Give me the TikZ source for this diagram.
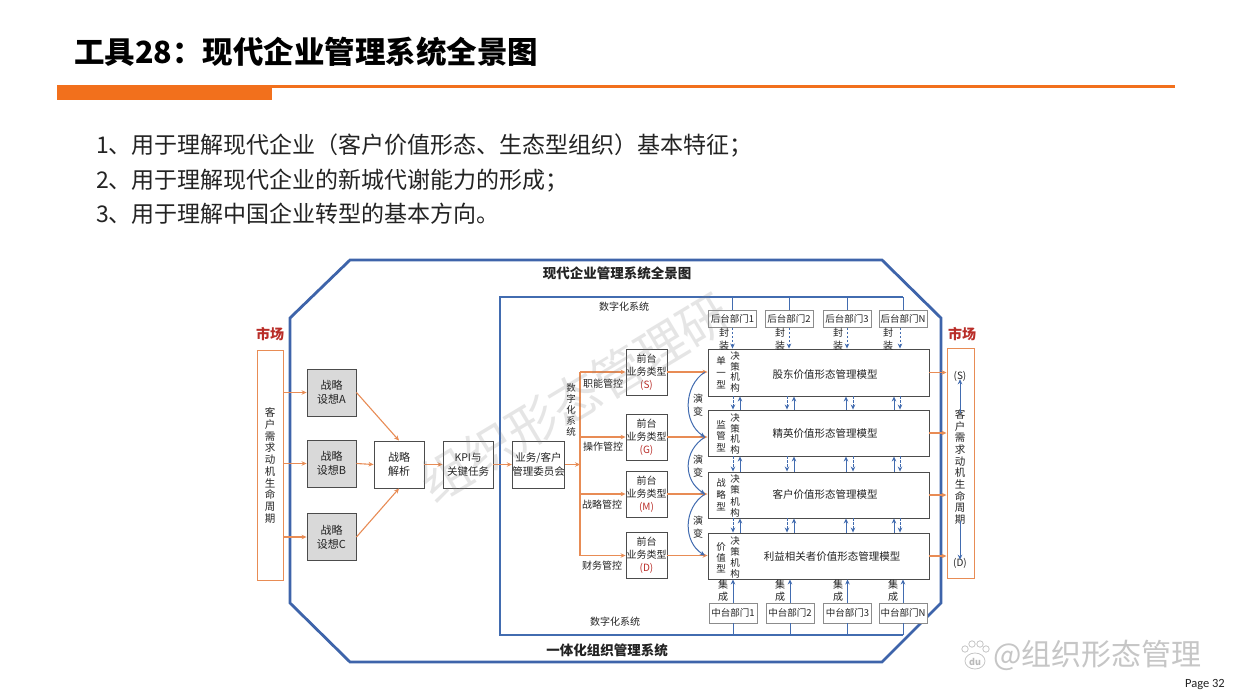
\documentclass[tikz,border=0pt]{standalone}
\usepackage{fontspec}
\setmainfont{Noto Sans CJK SC}
\newfontfamily\pagefont{Carlito}
\usetikzlibrary{arrows.meta,calc}
\definecolor{hdrorange}{RGB}{242,112,28}
\definecolor{arrorange}{RGB}{232,140,85}
\definecolor{frameblue}{RGB}{62,100,170}
\definecolor{lineblue}{RGB}{66,108,176}
\definecolor{mktred}{RGB}{185,45,40}
\definecolor{boxgray}{RGB}{217,217,217}
\definecolor{txt}{RGB}{35,35,35}
\newcommand\fsz[2]{\fontsize{#1}{#2}\selectfont}
\tikzset{
  bx/.style={draw=black!70, line width=0.9pt, fill=white, inner sep=0pt, align=center, font=\fsz{10}{13}, text=txt},
  sbx/.style={bx, fill=boxgray, font=\fsz{11}{14}, minimum width=49pt, minimum height=47pt},
  fbx/.style={bx, minimum width=41pt, minimum height=46pt},
  mbx/.style={bx, minimum width=221pt},
  dept/.style={draw=black!45, line width=0.6pt, fill=white, minimum width=48pt, inner sep=0pt, font=\fsz{9.5}{10}, text=txt},
  oarr/.style={draw=arrorange, line width=1.1pt, -{Stealth[length=5pt,width=4.5pt]}},
  oline/.style={draw=arrorange, line width=1.1pt},
  barr/.style={draw=lineblue, line width=1pt, -{Stealth[length=5pt,width=4.5pt]}},
  bdash/.style={barr, dash pattern=on 2.5pt off 1.5pt},
  bline/.style={draw=lineblue, line width=1pt},
  vt/.style={align=center, inner sep=0pt, font=\fsz{9.5}{11}, text=txt},
  lbl/.style={inner sep=0pt, font=\fsz{10}{11}, text=txt},
  mkt/.style={inner sep=0pt, font=\bfseries\fsz{14}{14}, text=mktred},
  mname/.style={inner sep=0pt, font=\fsz{10.5}{11}, text=txt}
}
\begin{document}
\begin{tikzpicture}[x=1pt,y=-1pt]
\useasboundingbox (0,0) rectangle (1242,698);
\fill[white] (0,0) rectangle (1242,698);
% ---------- header ----------
\node[anchor=west, inner sep=0pt, font=\bfseries\fsz{30.5}{31}, text=black] (title) at (74,52) {工具28：现代企业管理系统全景图};
\fill[hdrorange] (57,85) rectangle (272,100);
\draw[hdrorange, line width=2.6pt] (272,86.3) -- (1175,86.3);
\node[anchor=west, inner sep=0pt, font=\fsz{23}{25}, text=txt] (b1) at (96,146) {1、用于理解现代企业（客户价值形态、生态型组织）基本特征；};
\node[anchor=west, inner sep=0pt, font=\fsz{23}{25}, text=txt] (b2) at (96,181) {2、用于理解现代企业的新城代谢能力的形成；};
\node[anchor=west, inner sep=0pt, font=\fsz{23}{25}, text=txt] (b3) at (96,214) {3、用于理解中国企业转型的基本方向。};
% ---------- frames ----------
\draw[frameblue, line width=2.8pt] (350,260) -- (882,260) -- (941,318) -- (941,603) -- (882,662) -- (350,662) -- (290,603) -- (290,318) -- cycle;
\node[inner sep=0pt, font=\bfseries\fsz{13.5}{14}, text=txt] (dtitle) at (617,273) {现代企业管理系统全景图};
\node[inner sep=0pt, font=\bfseries\fsz{13.5}{14}, text=txt] (dbottom) at (607,650) {一体化组织管理系统};
\draw[bline, line width=1.2pt] (903,297) -- (500,297) -- (500,635) -- (903,635);
\node[lbl] (digtop) at (624,307) {数字化系统};
\node[lbl] (digbot) at (615,622) {数字化系统};
% ---------- left market ----------
\node[draw=arrorange, line width=1pt, minimum width=26pt, minimum height=230pt, inner sep=0pt] (mktL) at (270,465) {};
\node[mkt] (mktLlab) at (270,334) {市场};
\node[vt, font=\fsz{10.5}{11.7}] (mktLtxt) at (270,465.5) {客\\户\\需\\求\\动\\机\\生\\命\\周\\期};
% ---------- strategy ----------
\node[sbx] (sA) at (331.5,392.5) {战略\\设想A};
\node[sbx] (sB) at (331.5,463.5) {战略\\设想B};
\node[sbx] (sC) at (331.5,537) {战略\\设想C};
\node[bx, font=\fsz{11}{14}, minimum width=50pt, minimum height=47pt] (jx) at (399,464.5) {战略\\解析};
\node[bx, font=\fsz{10.5}{14}, minimum width=50pt, minimum height=47pt] (kpi) at (468,464.5) {KPI与\\关键任务};
\node[bx, font=\fsz{10.5}{14}, minimum width=49pt, minimum height=47pt] (wyh) at (538.5,464.5) {业务/客户\\管理委员会};
\draw[oarr] (mktL.east |- sA) -- (sA.west);
\draw[oarr] (mktL.east |- sB) -- (sB.west);
\draw[oarr] (mktL.east |- sC) -- (sC.west);
\draw[oarr] (sA.east) -- (jx.north);
\draw[oarr] (sB.east) -- (jx.west);
\draw[oarr] (sC.east) -- (jx.south);
\draw[oarr] (jx.east) -- (kpi.west);
\draw[oarr] (kpi.east) -- (wyh.west);
% ---------- front boxes ----------
\node[fbx] (fS) at (646.5,372) {前台\\业务类型\\{\color{mktred}(S)}};
\node[fbx] (fG) at (646.5,437) {前台\\业务类型\\{\color{mktred}(G)}};
\node[fbx] (fM) at (646.5,494) {前台\\业务类型\\{\color{mktred}(M)}};
\node[fbx] (fD) at (646.5,555.5) {前台\\业务类型\\{\color{mktred}(D)}};
\coordinate (tS) at (580,372);
\coordinate (tD) at (580,555.5);
\draw[oarr] (wyh.east) -- (wyh.east -| tS);
\draw[oline] (tS) -- (tD);
\draw[oarr] (tS) -- (fS.west);
\draw[oarr] (tS |- fG) -- (fG.west);
\draw[oarr] (tS |- fM) -- (fM.west);
\draw[oarr] (tD) -- (fD.west);
\node[vt] (digv) at (571,410) {数\\字\\化\\系\\统};
\node[lbl] (c1) at (603,384) {职能管控};
\node[lbl] (c2) at (603,447) {操作管控};
\node[lbl] (c3) at (602,505) {战略管控};
\node[lbl] (c4) at (602,566) {财务管控};
% ---------- model boxes ----------
\node[mbx, minimum height=47pt] (m1) at (818.5,372.5) {};
\node[mbx, minimum height=46pt] (m2) at (818.5,433) {};
\node[mbx, minimum height=46pt] (m3) at (818.5,495) {};
\node[mbx, minimum height=46pt] (m4) at (818.5,556) {};
\node[mname] (n1) at (825,375) {股东价值形态管理模型};
\node[mname] (n2) at (825,434) {精英价值形态管理模型};
\node[mname] (n3) at (825,495) {客户价值形态管理模型};
\node[mname] (n4) at (832,557) {利益相关者价值形态管理模型};
\node[vt, font=\fsz{9.5}{12}] (t1) at (721,373) {单\\一\\型};
\node[vt, font=\fsz{9.5}{11.5}] (t2) at (721,436) {监\\管\\型};
\node[vt, font=\fsz{9.5}{12}] (t3) at (721,495) {战\\略\\型};
\node[vt, font=\fsz{9.5}{11}] (t4) at (721,558) {价\\值\\型};
\node[vt, font=\fsz{9.5}{10.8}] (d1) at (735,372) {决\\策\\机\\构};
\node[vt, font=\fsz{9.5}{10.6}] (d2) at (735,434) {决\\策\\机\\构};
\node[vt, font=\fsz{9.5}{11.5}] (d3) at (735,496) {决\\策\\机\\构};
\node[vt, font=\fsz{9.5}{11}] (d4) at (735,557) {决\\策\\机\\构};
\draw[oarr] (fS.east) -- (fS.east -| m1.west);
\draw[oarr] (fG.east) -- (fG.east -| m2.west);
\draw[oarr] (fM.east) -- (fM.east -| m3.west);
\draw[oarr] (fD.east) -- (fD.east -| m4.west);
% evolution curves
\coordinate (e1) at (705,372);
\coordinate (e2) at (705,437);
\coordinate (e3) at (705,494);
\coordinate (e4) at (705,555.5);
\draw[barr] (e1) .. controls (683,386) and (683,423) .. (e2);
\draw[barr] (e2) .. controls (683,451) and (683,480) .. (e3);
\draw[barr] (e3) .. controls (683,508) and (683,542) .. (e4);
\node[vt, font=\fsz{10}{13}] (y1) at (698,405) {演\\变};
\node[vt, font=\fsz{10}{13}] (y2) at (698,466) {演\\变};
\node[vt, font=\fsz{10}{13}] (y3) at (698,527) {演\\变};
% between models
\foreach \a/\b in {m1/m2, m2/m3, m3/m4}{
  \draw[bdash] (733,0 |- \a.south) -- (733,0 |- \b.north);
  \draw[barr]  (740,0 |- \b.north) -- (740,0 |- \a.south);
  \draw[bdash] (787,0 |- \a.south) -- (787,0 |- \b.north);
  \draw[barr]  (794,0 |- \b.north) -- (794,0 |- \a.south);
  \draw[barr]  (846,0 |- \b.north) -- (846,0 |- \a.south);
  \draw[bdash] (853,0 |- \a.south) -- (853,0 |- \b.north);
  \draw[barr]  (894,0 |- \b.north) -- (894,0 |- \a.south);
  \draw[bdash] (900,0 |- \a.south) -- (900,0 |- \b.north);
}
% ---------- back-office depts ----------
\node[dept, minimum height=17pt] (h1) at (732.5,319) {后台部门1};
\node[dept, minimum height=17pt] (h2) at (789,319) {后台部门2};
\node[dept, minimum height=17pt] (h3) at (847,319) {后台部门3};
\node[dept, minimum height=17pt] (h4) at (903,319) {后台部门N};
\foreach \h in {h1,h2,h3,h4}{ \draw[bline] (\h.north) -- (\h.north |- 0,297); }
\draw[bdash] (h1.south) -- (h1.south |- m1.north);
\draw[bdash] (h2.south) -- (h2.south |- m1.north);
\draw[bdash] (h3.south) -- (h3.south |- m1.north);
\draw[bdash] ([xshift=-3pt]h4.south) -- ([xshift=-3pt]h4.south |- m1.north);
\node[vt, font=\fsz{10}{13.5}] (p1) at (724,339) {封\\装};
\node[vt, font=\fsz{10}{13.5}] (p2) at (780,339) {封\\装};
\node[vt, font=\fsz{10}{13.5}] (p3) at (838,339) {封\\装};
\node[vt, font=\fsz{10}{13.5}] (p4) at (888,339) {封\\装};
% ---------- middle-office depts ----------
\node[dept, minimum height=20pt] (z1) at (733,613) {中台部门1};
\node[dept, minimum height=20pt] (z2) at (790,613) {中台部门2};
\node[dept, minimum height=20pt] (z3) at (847.5,613) {中台部门3};
\node[dept, minimum height=20pt] (z4) at (903,613) {中台部门N};
\foreach \z in {z1,z2,z3,z4}{
  \draw[bline] (\z.south) -- (\z.south |- 0,635);
  \draw[barr] (\z.north) -- (\z.north |- m4.south);
}
\node[vt, font=\fsz{10}{12}] (g1) at (723,591) {集\\成};
\node[vt, font=\fsz{10}{12}] (g2) at (780,591) {集\\成};
\node[vt, font=\fsz{10}{12}] (g3) at (838,591) {集\\成};
\node[vt, font=\fsz{10}{12}] (g4) at (893,591) {集\\成};
% ---------- right market ----------
\node[draw=arrorange, line width=1pt, minimum width=27pt, minimum height=230pt, inner sep=0pt] (mktR) at (960.5,463) {};
\node[mkt] (mktRlab) at (962,334) {市场};
\node[inner sep=0pt, font=\fsz{10}{11}, text=txt] (rS) at (960,376) {(S)};
\node[inner sep=0pt, font=\fsz{10}{11}, text=txt] (rD) at (960,563) {(D)};
\node[vt, font=\fsz{10.5}{11.7}] (mktRtxt) at (960,467) {客\\户\\需\\求\\动\\机\\生\\命\\周\\期};
\draw[barr] ([yshift=-4pt]mktRtxt.north) -- ([yshift=2pt]rS.south);
\draw[barr] ([yshift=4pt]mktRtxt.south) -- ([yshift=-2pt]rD.north);
\draw[oarr] (m1.east) -- (m1.east -| mktR.west);
\draw[oarr] (m2.east) -- (m2.east -| mktR.west);
\draw[oarr] (m3.east) -- (m3.east -| mktR.west);
\draw[oarr] (m4.east) -- (m4.east -| mktR.west);
% ---------- watermarks ----------
\node[rotate=31, inner sep=0pt, font=\fsz{50}{50}, text=gray, opacity=0.2] (wm) at (575,398) {组织形态管理研};
\node[anchor=west, inner sep=0pt, font=\fsz{30}{30}, text=gray!45] (wm2) at (993,655) {@组织形态管理};
\draw[gray!45, line width=0.8pt] (975,661) ellipse (10pt and 8pt);
\node[inner sep=0pt, font=\bfseries\fsz{9}{9}, text=gray!55] (du) at (975,662) {du};
\draw[gray!45, line width=0.8pt] (965,649) circle (3.2pt) (972,644) circle (3.2pt) (980,644) circle (3.2pt) (986,649) circle (3.2pt);
\node[anchor=east, inner sep=0pt, font=\pagefont\fsz{12.5}{13}, text=txt] (page) at (1225,685) {Page 32};
\end{tikzpicture}
\end{document}
